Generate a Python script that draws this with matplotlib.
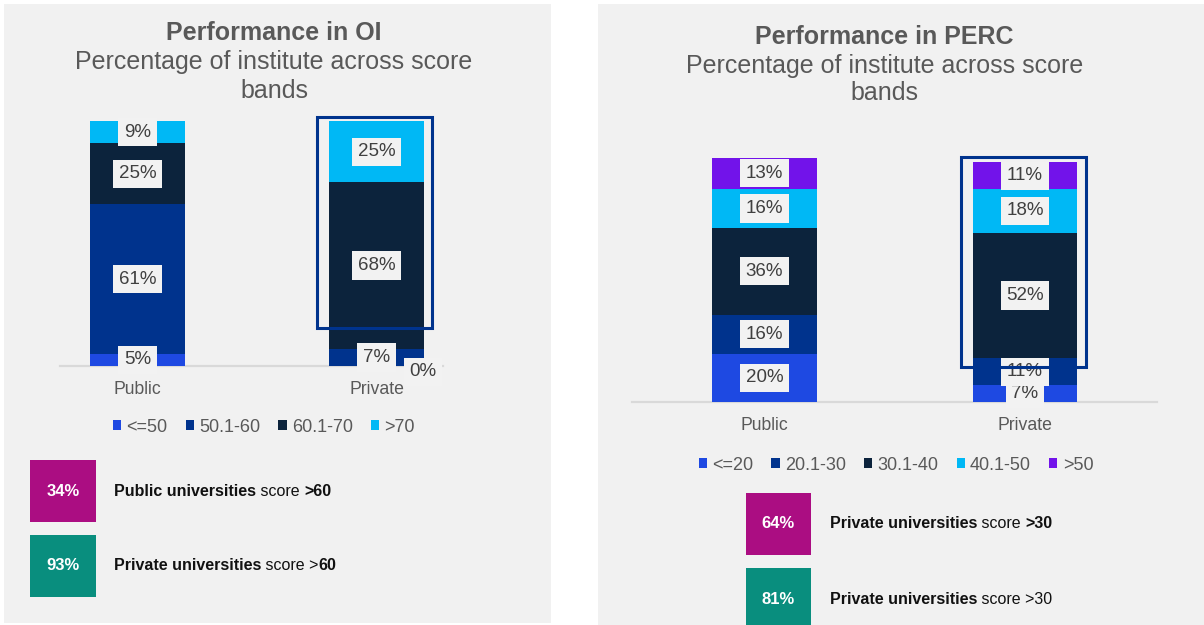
import matplotlib
matplotlib.use("Agg")
import matplotlib.pyplot as plt
from matplotlib.patches import Rectangle

plt.rcParams['font.family'] = ['Liberation Sans', 'DejaVu Sans']

# ---------------- data ----------------
categories = ["Public", "Private"]

oi_bands = ["<=50", "50.1-60", "60.1-70", ">70"]
oi_public = [5, 61, 25, 9]
oi_private = [0, 7, 68, 25]

perc_bands = ["<=20", "20.1-30", "30.1-40", "40.1-50", ">50"]
perc_public = [20, 16, 36, 16, 13]
perc_private = [7, 11, 52, 18, 11]

oi_callouts = ["34%", "93%"]
oi_callout_text = [[("Public universities", True), (" score ", False), (">60", True)],
                   [("Private universities", True), (" score >", False), ("60", True)]]
perc_callouts = ["64%", "81%"]
perc_callout_text = [[("Private universities", True), (" score ", False), (">30", True)],
                     [("Private universities", True), (" score >30", False)]]

oi_colors = ["#1E49E2", "#00338D", "#0C233C", "#00B8F5"]
perc_colors = ["#1E49E2", "#00338D", "#0C233C", "#00B8F5", "#7213EA"]
callout_colors = ["#AB0D82", "#098E7E"]

W, H = 1204, 625
PANEL = "#F1F1F1"
GRAY = "#595959"

fig = plt.figure(figsize=(W / 100, H / 100), dpi=100)
fig.patch.set_facecolor("white")


def fx(px):
    return px / W


def fy(py):
    return 1 - py / H


# panels
fig.add_artist(Rectangle((fx(4), fy(623)), fx(551) - fx(4), fy(4) - fy(623),
                         transform=fig.transFigure, facecolor=PANEL, edgecolor="none", zorder=0))
fig.add_artist(Rectangle((fx(598), fy(625)), fx(1204) - fx(598), fy(4) - fy(625),
                         transform=fig.transFigure, facecolor=PANEL, edgecolor="none", zorder=0))


def titles(cx, y1, name):
    fig.text(fx(cx), fy(y1), name, ha="center", va="center", fontsize=18,
             fontweight="bold", color=GRAY)
    fig.text(fx(cx), fy(y1 + 29), "Percentage of institute across score", ha="center",
             va="center", fontsize=18, color=GRAY)
    fig.text(fx(cx), fy(y1 + 57), "bands", ha="center", va="center", fontsize=18, color=GRAY)


titles(274, 33.5, "Performance in OI")
titles(884.5, 36.5, "Performance in PERC")


def stacked(ax, bands, pub, priv, colors, width):
    x = [0, 1]
    bottoms = [0, 0]
    handles = []
    for i, band in enumerate(bands):
        vals = [pub[i], priv[i]]
        bc = ax.bar(x, vals, width=width, bottom=bottoms, color=colors[i],
                    label=band, zorder=2, clip_on=False)
        handles.append(bc)
        for j in range(2):
            v = vals[j]
            if v == 0:
                tx, ty = x[j] + 0.195, bottoms[j] - 2.4
            else:
                tx, ty = x[j], bottoms[j] + v / 2
            ax.text(tx, ty, f"{v}%", ha="center", va="center", fontsize=13.5,
                    color="#404040", zorder=4, clip_on=False,
                    bbox=dict(boxstyle="square,pad=0.3", facecolor="#F2F2F2",
                              edgecolor="none"))
        bottoms = [bottoms[k] + vals[k] for k in range(2)]
    ax.set_facecolor("none")
    for s in ["top", "right", "left"]:
        ax.spines[s].set_visible(False)
    ax.spines["bottom"].set_color("#D9D9D9")
    ax.spines["bottom"].set_linewidth(1.6)
    ax.spines["bottom"].set_zorder(1)
    ax.set_yticks([])
    ax.set_xticks(x, categories)
    ax.tick_params(axis="x", length=0, labelsize=12.7, labelcolor=GRAY, pad=11)
    return handles


# left chart
axL = fig.add_axes([fx(60), fy(366), fx(443) - fx(60), (366 - 121) / H])
hL = stacked(axL, oi_bands, oi_public, oi_private, oi_colors, 0.4)
axL.set_xlim(-0.324, 1.278)
axL.set_ylim(0, 100)
axL.add_patch(Rectangle((0.751, 15.5), 1.232 - 0.751, 101.6 - 15.5, facecolor="none",
                        edgecolor="#00338D", linewidth=2.2, zorder=5, clip_on=False))

# right chart
axR = fig.add_axes([fx(632), fy(402), fx(1157) - fx(632), (402 - 160) / H])
hR = stacked(axR, perc_bands, perc_public, perc_private, perc_colors, 0.403)
axR.set_xlim(-0.5086, 1.5067)
axR.set_ylim(0, 100)
axR.add_patch(Rectangle((0.754, 14.5), 1.234 - 0.754, 101.2 - 14.5, facecolor="none",
                        edgecolor="#00338D", linewidth=2.2, zorder=5, clip_on=False))

# legends
for ax, handles, labels, cx, cy, n in [(axL, hL, oi_bands, 264, 427, 4),
                                       (axR, hR, perc_bands, 896, 465, 5)]:
    leg = ax.legend(handles, labels, loc="center", bbox_to_anchor=(fx(cx), fy(cy)),
                    bbox_transform=fig.transFigure, ncol=n, frameon=False, fontsize=13,
                    handlelength=0.45, handleheight=0.45, handletextpad=0.3,
                    columnspacing=1.0, borderpad=0, borderaxespad=0)
    for t in leg.get_texts():
        t.set_color(GRAY)

# callout boxes
renderer = fig.canvas.get_renderer()


def callout(x0, x1, y0, y1, color, value, parts, tx):
    fig.add_artist(Rectangle((fx(x0), fy(y1)), fx(x1) - fx(x0), fy(y0) - fy(y1),
                             transform=fig.transFigure, facecolor=color,
                             edgecolor="none", zorder=1))
    fig.text(fx((x0 + x1) / 2), fy((y0 + y1) / 2), value, ha="center", va="center",
             fontsize=12, fontweight="bold", color="white", zorder=2)
    x = tx
    for txt, bold in parts:
        t = fig.text(fx(x), fy((y0 + y1) / 2), txt, ha="left", va="center",
                     fontsize=11.5, fontweight="bold" if bold else "normal",
                     color="#111111", zorder=2)
        bb = t.get_window_extent(renderer)
        x = bb.x1


callout(30, 96, 460, 522, callout_colors[0], oi_callouts[0], oi_callout_text[0], 114)
callout(30, 96, 535, 597, callout_colors[1], oi_callouts[1], oi_callout_text[1], 114)
callout(746, 811, 493, 555, callout_colors[0], perc_callouts[0], perc_callout_text[0], 830)
callout(746, 811, 568, 630, callout_colors[1], perc_callouts[1], perc_callout_text[1], 830)

fig.savefig("out.png", dpi=100, facecolor="white")
